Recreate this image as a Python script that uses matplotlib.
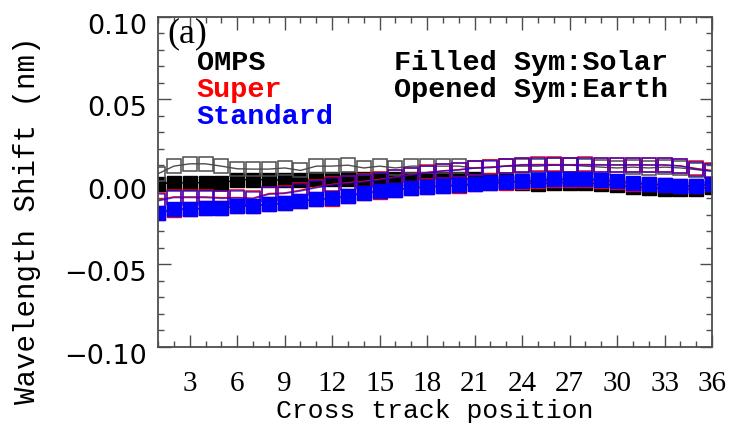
import numpy as np
import matplotlib
matplotlib.use('Agg')
import matplotlib.pyplot as plt
import matplotlib.transforms as mtransforms

# cross track positions
pos = np.arange(1, 37)

# OMPS
omps_solar = [-0.0012, -0.0005, -0.0005, -0.0004, -0.0006, 0.0012, 0.0015, 0.0012, 0.0012, 0.0010,
              0.0016, 0.0018, 0.0018, 0.0018, 0.0018, 0.0020, 0.0020, 0.0020, 0.0020, 0.0020,
              0.0018, 0.0015, 0.0008, -0.0004, -0.0010, -0.0004, -0.0004, -0.0006, -0.0012, -0.0020,
              -0.0030, -0.0035, -0.0040, -0.0045, -0.0042, -0.0030]
omps_earth = [0.0050, 0.0096, 0.0110, 0.0110, 0.0096, 0.0080, 0.0078, 0.0078, 0.0085, 0.0070,
              0.0096, 0.0096, 0.0102, 0.0085, 0.0096, 0.0085, 0.0096, 0.0096, 0.0096, 0.0096,
              0.0084, 0.0090, 0.0096, 0.0096, 0.0096, 0.0102, 0.0102, 0.0096, 0.0090, 0.0085,
              0.0090, 0.0085, 0.0090, 0.0085, 0.0075, 0.0065]

# Super
super_solar = [-0.0185, -0.0168, -0.0165, -0.0160, -0.0160, -0.0148, -0.0146, -0.0135, -0.0130, -0.0118,
               -0.0105, -0.0102, -0.0086, -0.0068, -0.0058, -0.0048, -0.0038, -0.0032, -0.0026, -0.0022,
               -0.0014, -0.0009, -0.0004, 0.0000, 0.0004, 0.0010, 0.0010, 0.0012, 0.0006, 0.0001,
               -0.0010, -0.0015, -0.0020, -0.0027, -0.0027, -0.0015]
super_earth = [-0.0110, -0.0090, -0.0090, -0.0090, -0.0095, -0.0094, -0.0098, -0.0070, -0.0066, -0.0050,
               -0.0030, -0.0014, -0.0004, 0.0004, 0.0016, 0.0030, 0.0044, 0.0058, 0.0068, 0.0075,
               0.0086, 0.0090, 0.0098, 0.0105, 0.0106, 0.0106, 0.0105, 0.0106, 0.0105, 0.0104,
               0.0105, 0.0104, 0.0104, 0.0098, 0.0082, 0.0070]

# Standard
std_solar = [-0.0190, -0.0165, -0.0163, -0.0160, -0.0158, -0.0145, -0.0145, -0.0133, -0.0130, -0.0115,
             -0.0104, -0.0100, -0.0084, -0.0066, -0.0056, -0.0046, -0.0036, -0.0030, -0.0024, -0.0020,
             -0.0012, -0.0006, 0.0000, 0.0005, 0.0010, 0.0018, 0.0018, 0.0018, 0.0012, 0.0005,
             -0.0006, -0.0012, -0.0018, -0.0025, -0.0025, -0.0012]
std_earth = [-0.0115, -0.0095, -0.0095, -0.0095, -0.0100, -0.0098, -0.0102, -0.0075, -0.0070, -0.0055,
             -0.0035, -0.0018, -0.0008, 0.0000, 0.0012, 0.0028, 0.0042, 0.0056, 0.0066, 0.0072,
             0.0084, 0.0086, 0.0096, 0.0102, 0.0102, 0.0102, 0.0102, 0.0102, 0.0102, 0.0102,
             0.0102, 0.0102, 0.0102, 0.0096, 0.0078, 0.0066]

fig = plt.figure(figsize=(7.34, 4.34), dpi=100)
ax = fig.add_axes([0.2153, 0.2005, 0.7548, 0.7604])

ms = 9.4
# filled = solar, open = earth
ax.plot(pos, omps_solar, 's-', color='black', ms=ms, lw=1)
ax.plot(pos, omps_earth, 's-', color='0.3', mfc='none', ms=ms, mew=1.1, lw=1)
ax.plot(pos, super_solar, 's-', color='red', ms=ms, lw=1)
ax.plot(pos, super_earth, 's-', color='red', mfc='none', ms=ms, mew=1.1, lw=1)
ax.plot(pos, std_solar, 's-', color='blue', ms=ms, lw=1)
ax.plot(pos, std_earth, 's-', color='blue', mfc='none', ms=ms, mew=1.1, lw=1, alpha=0.7)

ax.set_xlim(1, 36)
ax.set_ylim(-0.1, 0.1)
ax.set_xticks(np.arange(3, 37, 3))
ax.set_xticks(np.arange(1, 37, 1), minor=True)
ax.set_yticks([-0.10, -0.05, 0.00, 0.05, 0.10])
ax.set_yticks(np.arange(-0.10, 0.1001, 0.01), minor=True)
ax.set_yticklabels(['\u22120.10', '\u22120.05', '0.00', '0.05', '0.10'])

ax.tick_params(which='both', direction='in', top=True, right=True, color='0.3', width=1)
ax.tick_params(which='major', length=9)
ax.tick_params(which='minor', length=4.5)
ax.tick_params(axis='x', pad=17)
ax.tick_params(axis='y', pad=8)
for s in ax.spines.values():
    s.set_color('0.3')
    s.set_linewidth(1.3)

for lab in ax.get_xticklabels():
    lab.set_fontfamily('Liberation Serif')
    lab.set_fontsize(21)
# labels sit a bit low, like the original
off = mtransforms.ScaledTranslation(0, -5 / 72, fig.dpi_scale_trans)
for lab in ax.get_yticklabels():
    lab.set_fontfamily('DejaVu Sans')
    lab.set_fontsize(19.5)
    lab.set_transform(lab.get_transform() + off)

ax.set_xlabel('Cross track position', family='Liberation Mono', fontsize=19, labelpad=2)
ax.set_ylabel('Wavelength Shift (nm)', family='Liberation Mono', fontsize=21)
ax.yaxis.set_label_coords(-0.212, 0.385)

ax.text(0.016, 0.95, '(a)', transform=ax.transAxes, family='Liberation Serif',
        fontsize=26, va='center', ha='left')
leg_font = dict(family='Liberation Mono', fontsize=20.5, fontweight='bold', va='center',
                transform=ax.transAxes)
ax.text(0.07, 0.861, 'OMPS', color='black', ha='left', **leg_font)
ax.text(0.07, 0.779, 'Super', color='red', ha='left', **leg_font)
ax.text(0.07, 0.697, 'Standard', color='blue', ha='left', **leg_font)
ax.text(0.921, 0.861, 'Filled Sym:Solar', color='black', ha='right', **leg_font)
ax.text(0.921, 0.779, 'Opened Sym:Earth', color='black', ha='right', **leg_font)

fig.savefig('out.png', dpi=100)
